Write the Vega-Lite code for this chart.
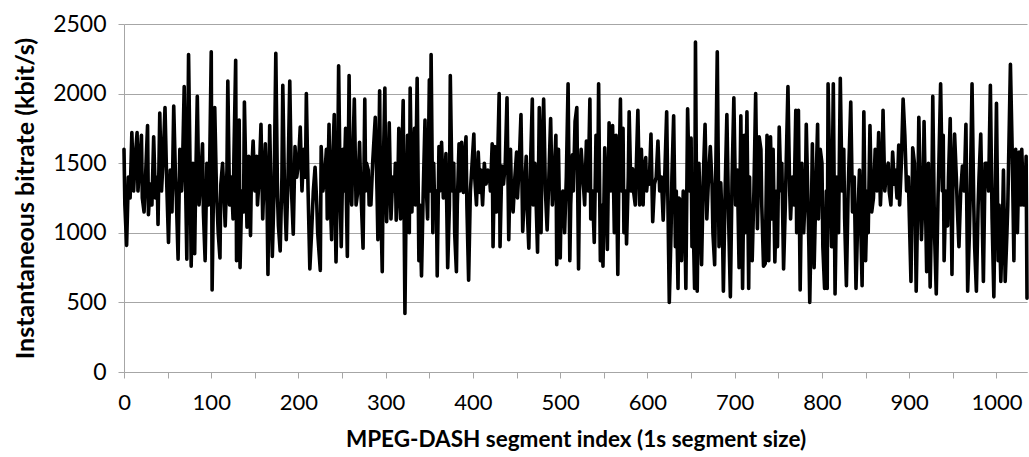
{"$schema":"https://vega.github.io/schema/vega-lite/v6.json","width":903,"height":348,"autosize":"none","padding":{"left":124,"top":24,"right":2,"bottom":85},"config":{"view":{"stroke":null},"font":"Lato"},
"data":{"values":[
{"s":0,"b":1600},{"s":1,"b":1200},{"s":3,"b":910},{"s":5,"b":1400},{"s":7,"b":1250},{"s":9,"b":1720},{"s":11,"b":1300},{"s":13,"b":1550},{"s":15,"b":1720},{"s":16,"b":1300},{"s":18,"b":1500},{"s":20,"b":1700},{"s":21,"b":1250},{"s":23,"b":1150},{"s":25,"b":1450},{"s":27,"b":1770},{"s":28,"b":1130},{"s":30,"b":1350},{"s":32,"b":1200},{"s":34,"b":1690},{"s":36,"b":1250},{"s":38,"b":1400},{"s":39,"b":1060},{"s":41,"b":1860},{"s":43,"b":1300},{"s":45,"b":1550},{"s":47,"b":1900},{"s":49,"b":1350},{"s":51,"b":930},{"s":53,"b":1450},{"s":55,"b":1150},{"s":57,"b":1910},{"s":59,"b":1400},{"s":60,"b":1250},{"s":62,"b":810},{"s":64,"b":1600},{"s":66,"b":1300},{"s":67,"b":1450},{"s":69,"b":2050},{"s":71,"b":1200},{"s":72,"b":810},{"s":74,"b":2280},{"s":76,"b":1350},{"s":77,"b":760},{"s":79,"b":1500},{"s":81,"b":850},{"s":82,"b":1300},{"s":84,"b":1980},{"s":86,"b":1200},{"s":88,"b":1400},{"s":90,"b":1640},{"s":91,"b":1150},{"s":93,"b":800},{"s":95,"b":1500},{"s":97,"b":1200},{"s":98,"b":1400},{"s":100,"b":2300},{"s":101,"b":590},{"s":103,"b":1500},{"s":104,"b":1900},{"s":106,"b":1300},{"s":108,"b":1000},{"s":110,"b":820},{"s":111,"b":1350},{"s":113,"b":1500},{"s":115,"b":1200},{"s":116,"b":1050},{"s":118,"b":1450},{"s":119,"b":2090},{"s":121,"b":1200},{"s":123,"b":1400},{"s":125,"b":1100},{"s":126,"b":1550},{"s":128,"b":2240},{"s":129,"b":800},{"s":131,"b":1400},{"s":132,"b":1810},{"s":133,"b":750},{"s":135,"b":1300},{"s":137,"b":1150},{"s":138,"b":1940},{"s":140,"b":1300},{"s":141,"b":1040},{"s":143,"b":1550},{"s":145,"b":980},{"s":146,"b":1400},{"s":148,"b":1660},{"s":150,"b":1300},{"s":152,"b":1550},{"s":153,"b":1200},{"s":155,"b":1400},{"s":157,"b":1780},{"s":159,"b":1100},{"s":160,"b":1300},{"s":162,"b":1640},{"s":164,"b":1200},{"s":165,"b":700},{"s":166,"b":1300},{"s":167,"b":1770},{"s":169,"b":1100},{"s":170,"b":830},{"s":172,"b":1300},{"s":174,"b":2290},{"s":176,"b":1250},{"s":177,"b":1050},{"s":179,"b":870},{"s":181,"b":1400},{"s":182,"b":2060},{"s":184,"b":1300},{"s":186,"b":950},{"s":188,"b":1400},{"s":190,"b":2090},{"s":192,"b":1300},{"s":194,"b":990},{"s":196,"b":1620},{"s":198,"b":1400},{"s":200,"b":1500},{"s":202,"b":1760},{"s":204,"b":1300},{"s":206,"b":1600},{"s":208,"b":1400},{"s":209,"b":2000},{"s":211,"b":1300},{"s":213,"b":740},{"s":215,"b":1000},{"s":217,"b":1300},{"s":219,"b":1470},{"s":221,"b":1200},{"s":222,"b":1000},{"s":225,"b":730},{"s":226,"b":1620},{"s":228,"b":1300},{"s":230,"b":1400},{"s":232,"b":1600},{"s":233,"b":1100},{"s":235,"b":1780},{"s":236,"b":1300},{"s":238,"b":950},{"s":239,"b":1500},{"s":241,"b":1850},{"s":242,"b":1200},{"s":243,"b":790},{"s":245,"b":1500},{"s":246,"b":2200},{"s":248,"b":1200},{"s":249,"b":900},{"s":251,"b":1600},{"s":252,"b":1300},{"s":254,"b":1750},{"s":255,"b":1200},{"s":256,"b":830},{"s":258,"b":2130},{"s":259,"b":1400},{"s":261,"b":1200},{"s":262,"b":1500},{"s":264,"b":1960},{"s":266,"b":1200},{"s":268,"b":1300},{"s":270,"b":1650},{"s":271,"b":1400},{"s":274,"b":890},{"s":276,"b":1960},{"s":277,"b":1300},{"s":278,"b":1500},{"s":280,"b":1450},{"s":281,"b":1200},{"s":283,"b":1200},{"s":285,"b":1500},{"s":288,"b":1830},{"s":290,"b":1300},{"s":291,"b":950},{"s":293,"b":2020},{"s":294,"b":1300},{"s":296,"b":720},{"s":297,"b":1400},{"s":299,"b":2040},{"s":300,"b":1300},{"s":301,"b":1080},{"s":303,"b":1500},{"s":304,"b":1790},{"s":306,"b":1100},{"s":308,"b":1400},{"s":310,"b":1300},{"s":311,"b":1500},{"s":312,"b":1090},{"s":314,"b":1400},{"s":315,"b":1750},{"s":317,"b":1100},{"s":318,"b":1400},{"s":320,"b":1950},{"s":322,"b":420},{"s":323,"b":1000},{"s":325,"b":1700},{"s":326,"b":1300},{"s":327,"b":1000},{"s":328,"b":2040},{"s":330,"b":1150},{"s":331,"b":1400},{"s":333,"b":1750},{"s":334,"b":1200},{"s":336,"b":2110},{"s":338,"b":800},{"s":339,"b":1200},{"s":341,"b":690},{"s":343,"b":1300},{"s":345,"b":1810},{"s":346,"b":1400},{"s":348,"b":1100},{"s":350,"b":2100},{"s":351,"b":1300},{"s":352,"b":2280},{"s":354,"b":1000},{"s":355,"b":1500},{"s":356,"b":1200},{"s":358,"b":1300},{"s":359,"b":690},{"s":361,"b":1620},{"s":362,"b":1300},{"s":364,"b":1650},{"s":366,"b":1250},{"s":368,"b":1400},{"s":369,"b":1570},{"s":371,"b":750},{"s":373,"b":1200},{"s":374,"b":2130},{"s":376,"b":1300},{"s":378,"b":1500},{"s":379,"b":1000},{"s":381,"b":720},{"s":382,"b":1200},{"s":384,"b":1640},{"s":385,"b":1300},{"s":387,"b":1650},{"s":389,"b":1290},{"s":390,"b":1500},{"s":392,"b":1690},{"s":393,"b":1200},{"s":395,"b":660},{"s":397,"b":1300},{"s":399,"b":1500},{"s":401,"b":1710},{"s":402,"b":1400},{"s":404,"b":1200},{"s":406,"b":1580},{"s":408,"b":1290},{"s":409,"b":1450},{"s":411,"b":1200},{"s":413,"b":1500},{"s":415,"b":1350},{"s":417,"b":1450},{"s":419,"b":1400},{"s":420,"b":1300},{"s":422,"b":1640},{"s":423,"b":900},{"s":425,"b":1620},{"s":426,"b":1300},{"s":427,"b":1150},{"s":428,"b":1450},{"s":430,"b":2000},{"s":431,"b":900},{"s":433,"b":1480},{"s":435,"b":1350},{"s":437,"b":1500},{"s":439,"b":1970},{"s":441,"b":950},{"s":443,"b":1600},{"s":444,"b":1300},{"s":446,"b":1150},{"s":448,"b":1400},{"s":450,"b":1580},{"s":451,"b":1250},{"s":453,"b":1500},{"s":455,"b":1850},{"s":457,"b":1010},{"s":459,"b":1300},{"s":461,"b":1550},{"s":462,"b":1200},{"s":464,"b":890},{"s":466,"b":1500},{"s":468,"b":1960},{"s":469,"b":1200},{"s":471,"b":1500},{"s":472,"b":1300},{"s":474,"b":860},{"s":476,"b":1900},{"s":478,"b":1000},{"s":479,"b":1500},{"s":481,"b":1960},{"s":483,"b":1300},{"s":485,"b":1020},{"s":487,"b":1400},{"s":489,"b":1820},{"s":491,"b":1200},{"s":493,"b":1400},{"s":495,"b":1700},{"s":496,"b":770},{"s":498,"b":1600},{"s":500,"b":820},{"s":501,"b":1200},{"s":503,"b":1300},{"s":505,"b":1000},{"s":507,"b":1400},{"s":509,"b":2070},{"s":511,"b":800},{"s":512,"b":1200},{"s":514,"b":1560},{"s":515,"b":1300},{"s":517,"b":1800},{"s":519,"b":1900},{"s":521,"b":740},{"s":522,"b":1300},{"s":524,"b":1600},{"s":526,"b":1400},{"s":528,"b":1200},{"s":530,"b":1660},{"s":532,"b":1300},{"s":534,"b":1960},{"s":535,"b":1100},{"s":537,"b":1300},{"s":539,"b":930},{"s":541,"b":1700},{"s":543,"b":1300},{"s":544,"b":2070},{"s":546,"b":800},{"s":547,"b":1200},{"s":549,"b":760},{"s":551,"b":1610},{"s":553,"b":1200},{"s":554,"b":880},{"s":556,"b":1790},{"s":558,"b":1300},{"s":560,"b":1770},{"s":562,"b":1000},{"s":564,"b":1700},{"s":566,"b":700},{"s":567,"b":1300},{"s":569,"b":1960},{"s":570,"b":1300},{"s":572,"b":1750},{"s":573,"b":1000},{"s":575,"b":1300},{"s":576,"b":920},{"s":578,"b":1400},{"s":579,"b":1870},{"s":581,"b":1300},{"s":583,"b":1460},{"s":584,"b":1300},{"s":586,"b":1200},{"s":589,"b":1880},{"s":591,"b":1200},{"s":593,"b":1600},{"s":595,"b":1200},{"s":596,"b":1450},{"s":598,"b":1540},{"s":599,"b":1300},{"s":601,"b":1440},{"s":602,"b":1350},{"s":604,"b":1710},{"s":606,"b":1080},{"s":608,"b":1350},{"s":610,"b":1400},{"s":612,"b":1660},{"s":614,"b":1300},{"s":616,"b":1400},{"s":618,"b":1090},{"s":620,"b":1450},{"s":622,"b":1870},{"s":625,"b":500},{"s":627,"b":1000},{"s":628,"b":1400},{"s":630,"b":1840},{"s":632,"b":900},{"s":633,"b":1300},{"s":635,"b":600},{"s":636,"b":1250},{"s":638,"b":1230},{"s":639,"b":800},{"s":641,"b":1300},{"s":643,"b":1000},{"s":644,"b":600},{"s":646,"b":1890},{"s":648,"b":1300},{"s":650,"b":1680},{"s":651,"b":900},{"s":652,"b":1200},{"s":654,"b":600},{"s":655,"b":2370},{"s":657,"b":580},{"s":658,"b":1100},{"s":659,"b":1500},{"s":661,"b":1000},{"s":662,"b":770},{"s":664,"b":1400},{"s":666,"b":1780},{"s":668,"b":1100},{"s":670,"b":1400},{"s":672,"b":1620},{"s":674,"b":1350},{"s":675,"b":1000},{"s":677,"b":770},{"s":678,"b":1300},{"s":680,"b":2300},{"s":682,"b":900},{"s":684,"b":1360},{"s":686,"b":1000},{"s":687,"b":580},{"s":689,"b":1300},{"s":691,"b":1850},{"s":693,"b":1100},{"s":695,"b":540},{"s":697,"b":1400},{"s":699,"b":1970},{"s":701,"b":1200},{"s":703,"b":1450},{"s":705,"b":750},{"s":706,"b":1300},{"s":707,"b":1840},{"s":709,"b":600},{"s":711,"b":1700},{"s":712,"b":1000},{"s":714,"b":1870},{"s":716,"b":600},{"s":717,"b":1400},{"s":718,"b":1000},{"s":720,"b":800},{"s":722,"b":1300},{"s":724,"b":2000},{"s":726,"b":1030},{"s":728,"b":1690},{"s":730,"b":1600},{"s":731,"b":1200},{"s":733,"b":760},{"s":735,"b":780},{"s":737,"b":1700},{"s":739,"b":800},{"s":741,"b":1690},{"s":743,"b":1100},{"s":744,"b":1600},{"s":746,"b":790},{"s":748,"b":1300},{"s":749,"b":900},{"s":751,"b":1760},{"s":753,"b":1300},{"s":754,"b":1500},{"s":756,"b":740},{"s":758,"b":1200},{"s":759,"b":1500},{"s":761,"b":2050},{"s":763,"b":1300},{"s":764,"b":1100},{"s":766,"b":1400},{"s":768,"b":1200},{"s":770,"b":1880},{"s":771,"b":1000},{"s":773,"b":1880},{"s":775,"b":590},{"s":777,"b":1500},{"s":779,"b":1000},{"s":781,"b":1300},{"s":782,"b":1780},{"s":784,"b":1200},{"s":785,"b":900},{"s":786,"b":500},{"s":788,"b":1200},{"s":789,"b":1640},{"s":791,"b":750},{"s":793,"b":1300},{"s":795,"b":1780},{"s":796,"b":1100},{"s":798,"b":1600},{"s":800,"b":1500},{"s":801,"b":900},{"s":803,"b":600},{"s":805,"b":1300},{"s":806,"b":600},{"s":807,"b":2070},{"s":809,"b":1400},{"s":811,"b":900},{"s":813,"b":2070},{"s":815,"b":560},{"s":817,"b":1400},{"s":819,"b":1000},{"s":821,"b":2110},{"s":823,"b":1300},{"s":825,"b":1600},{"s":826,"b":1100},{"s":828,"b":620},{"s":830,"b":1300},{"s":833,"b":1940},{"s":835,"b":1150},{"s":837,"b":1400},{"s":839,"b":600},{"s":841,"b":1100},{"s":843,"b":1450},{"s":845,"b":900},{"s":846,"b":620},{"s":848,"b":1870},{"s":850,"b":800},{"s":852,"b":1300},{"s":853,"b":1000},{"s":855,"b":1770},{"s":857,"b":1150},{"s":859,"b":1250},{"s":861,"b":1600},{"s":863,"b":1300},{"s":865,"b":1720},{"s":867,"b":1200},{"s":869,"b":1500},{"s":870,"b":1880},{"s":872,"b":1300},{"s":874,"b":1450},{"s":876,"b":1500},{"s":877,"b":1300},{"s":879,"b":1200},{"s":881,"b":1580},{"s":883,"b":1350},{"s":884,"b":1450},{"s":886,"b":1250},{"s":888,"b":1630},{"s":889,"b":1200},{"s":891,"b":1500},{"s":893,"b":1960},{"s":895,"b":1700},{"s":897,"b":1300},{"s":899,"b":1400},{"s":902,"b":650},{"s":904,"b":1610},{"s":906,"b":1500},{"s":908,"b":580},{"s":910,"b":1300},{"s":911,"b":1830},{"s":914,"b":950},{"s":916,"b":1300},{"s":917,"b":1800},{"s":920,"b":720},{"s":922,"b":1500},{"s":924,"b":610},{"s":926,"b":1300},{"s":927,"b":1980},{"s":929,"b":1000},{"s":931,"b":560},{"s":933,"b":1250},{"s":934,"b":1500},{"s":936,"b":2070},{"s":938,"b":1300},{"s":939,"b":1700},{"s":940,"b":800},{"s":942,"b":1300},{"s":944,"b":1050},{"s":945,"b":1400},{"s":947,"b":1820},{"s":949,"b":700},{"s":950,"b":1300},{"s":952,"b":1710},{"s":954,"b":1400},{"s":955,"b":1200},{"s":957,"b":900},{"s":959,"b":1300},{"s":961,"b":1480},{"s":963,"b":1300},{"s":965,"b":1780},{"s":967,"b":580},{"s":969,"b":1000},{"s":970,"b":1300},{"s":972,"b":2070},{"s":974,"b":1200},{"s":975,"b":900},{"s":977,"b":580},{"s":979,"b":1200},{"s":980,"b":1400},{"s":982,"b":1710},{"s":985,"b":650},{"s":987,"b":1500},{"s":989,"b":1500},{"s":991,"b":1300},{"s":993,"b":2060},{"s":995,"b":1100},{"s":997,"b":540},{"s":1000,"b":1930},{"s":1002,"b":800},{"s":1003,"b":1200},{"s":1005,"b":650},{"s":1007,"b":1100},{"s":1008,"b":1450},{"s":1010,"b":650},{"s":1012,"b":1000},{"s":1013,"b":1200},{"s":1016,"b":2210},{"s":1018,"b":1600},{"s":1020,"b":800},{"s":1021,"b":1500},{"s":1022,"b":1600},{"s":1024,"b":1000},{"s":1026,"b":1580},{"s":1028,"b":1200},{"s":1029,"b":1600},{"s":1031,"b":1200},{"s":1033,"b":1300},{"s":1034,"b":1550},{"s":1035,"b":530}
]},
"mark":{"type":"line","color":"#000000","strokeWidth":3.6,"strokeJoin":"round","strokeCap":"round"},
"encoding":{
"x":{"field":"s","type":"quantitative","scale":{"domain":[0,1035],"nice":false,"zero":false},
"axis":{"title":"MPEG-DASH segment index (1s segment size)","values":[0,50,100,150,200,250,300,350,400,450,500,550,600,650,700,750,800,850,900,950,1000],"labelExpr":"datum.value % 100 === 0 ? datum.label : ''","format":"d","grid":false,"domainColor":"#a6a6a6","tickColor":"#a6a6a6","tickSize":6,"labelFontSize":22,"labelColor":"#000000","labelPadding":14,"labelFlush":false,"labelOverlap":false,"titleFontSize":22.5,"titleFontWeight":"bold","titleColor":"#000000","titleY":67,"titleBaseline":"middle"}},
"y":{"field":"b","type":"quantitative","scale":{"domain":[0,2500],"nice":false},
"axis":{"title":"Instantaneous  bitrate (kbit/s)","values":[0,500,1000,1500,2000,2500],"format":"d","grid":true,"gridColor":"#a6a6a6","domainColor":"#a6a6a6","tickColor":"#a6a6a6","tickSize":6,"labelFontSize":23,"labelColor":"#000000","labelPadding":12,"labelFlush":false,"labelOverlap":false,"titleFontSize":25,"titleFontWeight":"bold","titleColor":"#000000","titleX":-99,"titleY":174,"titleBaseline":"middle"}}
}}
